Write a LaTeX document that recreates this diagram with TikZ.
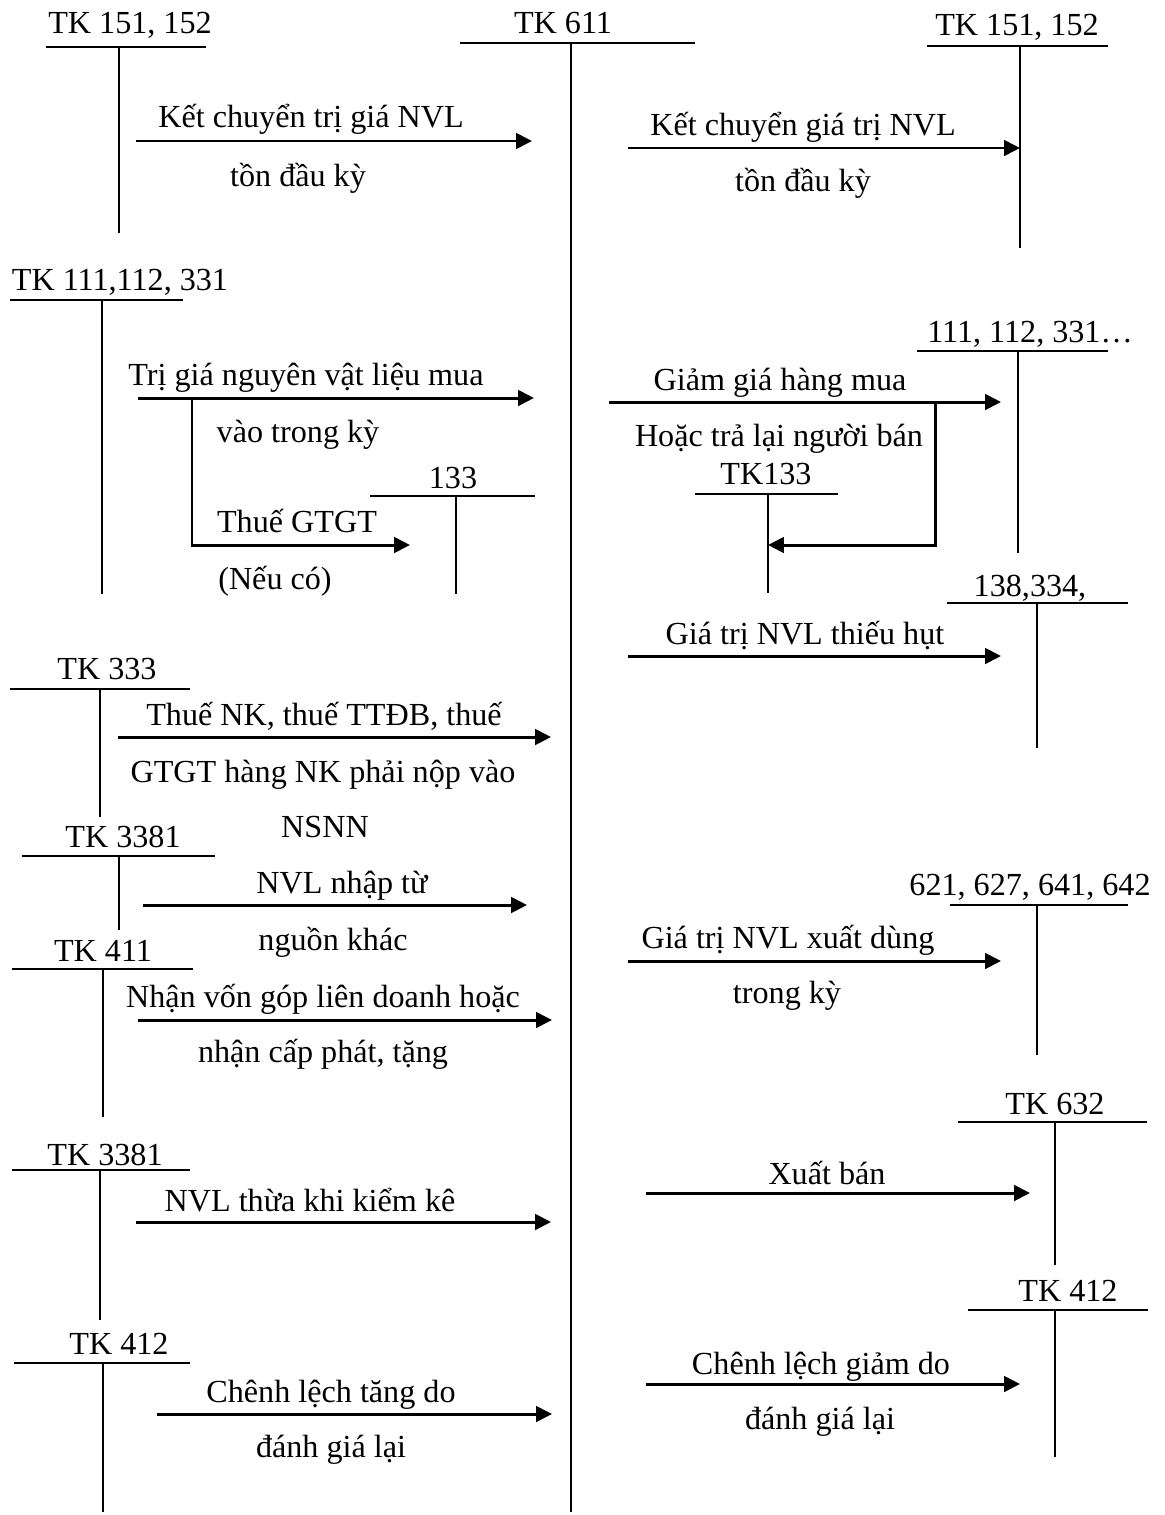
\documentclass[tikz,border=0pt]{standalone}
\usepackage{fontspec}
\setmainfont{Liberation Serif}
\usetikzlibrary{arrows.meta}

\tikzset{
  acct/.style={anchor=base, inner sep=0pt},
  note/.style={anchor=base, inner sep=0pt},
  tline/.style={line width=1.1pt},
  flow/.style={line width=1.7pt, -{Triangle[length=9pt,width=8.8pt]}},
}

\begin{document}
\begin{tikzpicture}[x=0.02cm, y=-0.02cm, font=\fontsize{18.3}{22}\selectfont]
  \useasboundingbox (0,0) rectangle (1165,1515);

  % tai khoan trung tam
  \node[acct] (tk611) at (563,33) {TK 611};
  \draw[tline] (460,43) -- (695,43);
  \draw[tline] (571,43) -- (571,1512);

  % ben trai
  \node[acct] (tk152a) at (130,33) {TK 151, 152};
  \draw[tline] (46,47) -- (206,47);
  \draw[tline] (119,47) -- (119,233);

  \node[acct] (tk331a) at (120,290) {TK 111,112, 331};
  \draw[tline] (10,300) -- (183,300);
  \draw[tline] (102,300) -- (102,594);

  \node[acct] (tk133a) at (453,488) {133};
  \draw[tline] (370,496) -- (535,496);
  \draw[tline] (456,496) -- (456,594);

  \node[acct] (tk333) at (107,679) {TK 333};
  \draw[tline] (10,689) -- (190,689);
  \draw[tline] (100,689) -- (100,817);

  \node[acct] (tk3381a) at (123,847) {TK 3381};
  \draw[tline] (22,856) -- (215,856);
  \draw[tline] (119,856) -- (119,930);

  \node[acct] (tk411) at (103,961) {TK 411};
  \draw[tline] (12,969) -- (193,969);
  \draw[tline] (103,969) -- (103,1117);

  \node[acct] (tk3381b) at (105,1165) {TK 3381};
  \draw[tline] (12,1170) -- (190,1170);
  \draw[tline] (100,1170) -- (100,1320);

  \node[acct] (tk412a) at (119,1354) {TK 412};
  \draw[tline] (14,1363) -- (190,1363);
  \draw[tline] (103,1363) -- (103,1512);

  % ben phai
  \node[acct] (tk152b) at (1017,35) {TK 151, 152};
  \draw[tline] (927,46) -- (1108,46);
  \draw[tline] (1020,46) -- (1020,248);

  \node[acct] (tk331b) at (1030,342) {111, 112, 331…};
  \draw[tline] (917,351) -- (1108,351);
  \draw[tline] (1018,351) -- (1018,553);

  \node[acct] (tk133b) at (766,484) {TK133};
  \draw[tline] (695,494) -- (838,494);
  \draw[tline] (768,494) -- (768,593);

  \node[acct] (tk138) at (1030,596) {138,334,};
  \draw[tline] (947,603) -- (1128,603);
  \draw[tline] (1037,603) -- (1037,748);

  \node[acct] (tk621) at (1030,895) {621, 627, 641, 642};
  \draw[tline] (950,905) -- (1128,905);
  \draw[tline] (1037,905) -- (1037,1055);

  \node[acct] (tk632) at (1055,1114) {TK 632};
  \draw[tline] (958,1122) -- (1147,1122);
  \draw[tline] (1055,1122) -- (1055,1265);

  \node[acct] (tk412b) at (1068,1301) {TK 412};
  \draw[tline] (968,1310) -- (1148,1310);
  \draw[tline] (1055,1310) -- (1055,1457);

  % diem dau, diem cuoi cac mui ten
  \coordinate (kc1s) at (136,141);  \coordinate (kc1e) at (532,141);
  \coordinate (kc2s) at (628,148);  \coordinate (kc2e) at (1020,148);
  \coordinate (mua1) at (138,398);  \coordinate (mua2) at (534,398);
  \coordinate (vat1) at (192,398);  \coordinate (vat2) at (192,545);
  \coordinate (vat3) at (410,545);
  \coordinate (gg1) at (609,402);   \coordinate (gg2) at (1001,402);
  \coordinate (tl1) at (935,402);   \coordinate (tl2) at (935,545);
  \coordinate (tl3) at (768,545);
  \coordinate (th1) at (628,656);   \coordinate (th2) at (1001,656);
  \coordinate (nk1) at (118,737);   \coordinate (nk2) at (551,737);
  \coordinate (nk3) at (143,905);   \coordinate (nk4) at (527,905);
  \coordinate (vg1) at (138,1020);  \coordinate (vg2) at (552,1020);
  \coordinate (xd1) at (628,961);   \coordinate (xd2) at (1001,961);
  \coordinate (xb1) at (646,1193);  \coordinate (xb2) at (1030,1193);
  \coordinate (kk1) at (136,1222);  \coordinate (kk2) at (551,1222);
  \coordinate (cg1) at (646,1384);  \coordinate (cg2) at (1020,1384);
  \coordinate (ct1) at (157,1414);  \coordinate (ct2) at (552,1414);

  % mui ten
  \draw[flow] (kc1s) -- (kc1e);
  \draw[flow] (kc2s) -- (kc2e);
  \draw[flow] (mua1) -- (mua2);
  \draw[flow] (vat1) -- (vat2) -- (vat3);
  \draw[flow] (gg1) -- (gg2);
  \draw[flow] (tl1) -- (tl2) -- (tl3);
  \draw[flow] (th1) -- (th2);
  \draw[flow] (nk1) -- (nk2);
  \draw[flow] (nk3) -- (nk4);
  \draw[flow] (vg1) -- (vg2);
  \draw[flow] (xd1) -- (xd2);
  \draw[flow] (xb1) -- (xb2);
  \draw[flow] (kk1) -- (kk2);
  \draw[flow] (cg1) -- (cg2);
  \draw[flow] (ct1) -- (ct2);

  % noi dung nghiep vu
  \node[note] (t1a) at (311,127) {Kết chuyển trị giá NVL};
  \node[note] (t1b) at (298,186) {tồn đầu kỳ};
  \node[note] (t2a) at (803,135) {Kết chuyển giá trị NVL};
  \node[note] (t2b) at (803,191) {tồn đầu kỳ};
  \node[note] (t3a) at (306,385) {Trị giá nguyên vật liệu mua};
  \node[note] (t3b) at (298,442) {vào trong kỳ};
  \node[note] (t4a) at (297,532) {Thuế GTGT};
  \node[note] (t4b) at (275,589) {(Nếu có)};
  \node[note] (t5a) at (780,390) {Giảm giá hàng mua};
  \node[note] (t5b) at (779,446) {Hoặc trả lại người bán};
  \node[note] (t6) at (805,644) {Giá trị NVL thiếu hụt};
  \node[note] (t7a) at (324,725) {Thuế NK, thuế TTĐB, thuế};
  \node[note] (t7b) at (323,782) {GTGT hàng NK phải nộp vào};
  \node[note] (t7c) at (325,837) {NSNN};
  \node[note] (t8a) at (342,893) {NVL nhập từ};
  \node[note] (t8b) at (333,950) {nguồn khác};
  \node[note] (t9a) at (323,1007) {Nhận vốn góp liên doanh hoặc};
  \node[note] (t9b) at (323,1062) {nhận cấp phát, tặng};
  \node[note] (t10a) at (788,948) {Giá trị NVL xuất dùng};
  \node[note] (t10b) at (787,1003) {trong kỳ};
  \node[note] (t11) at (827,1184) {Xuất bán};
  \node[note] (t12) at (310,1211) {NVL thừa khi kiểm kê};
  \node[note] (t13a) at (821,1374) {Chênh lệch giảm do};
  \node[note] (t13b) at (820,1429) {đánh giá lại};
  \node[note] (t14a) at (331,1402) {Chênh lệch tăng do};
  \node[note] (t14b) at (331,1457) {đánh giá lại};
\end{tikzpicture}
\end{document}
